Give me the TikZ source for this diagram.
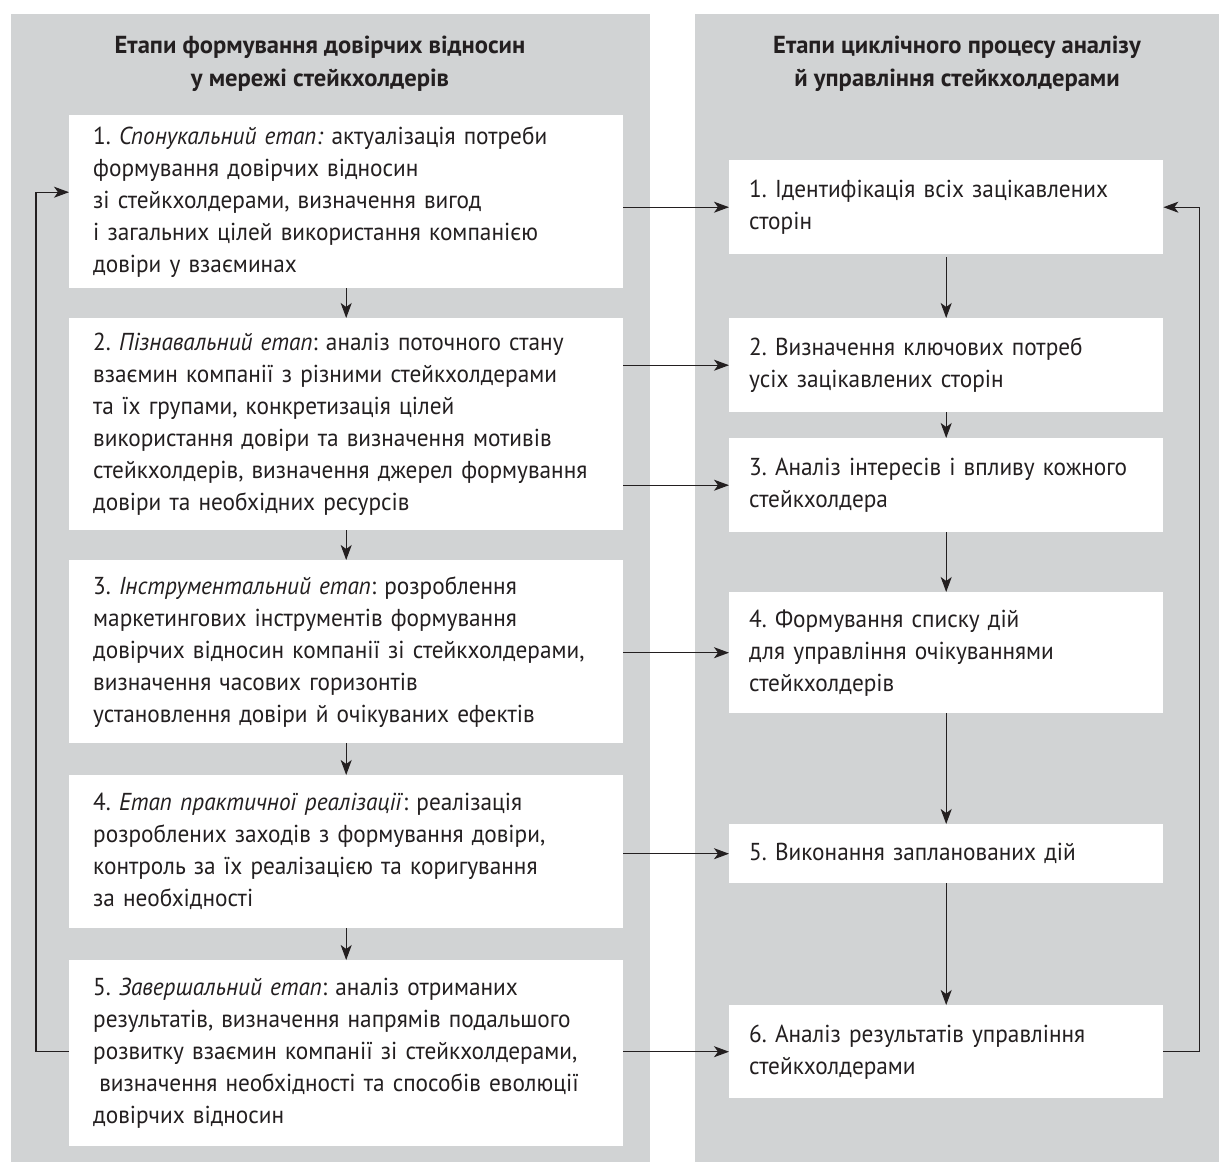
\documentclass[tikz,border=0pt]{standalone}
\usepackage{fontspec}
\setmainfont{PT Sans}[FakeStretch=0.95]
\newfontfamily\titlefont{PT Sans}
\usetikzlibrary{arrows.meta,calc}
\definecolor{panelgrey}{RGB}{209,211,212}
\definecolor{ink}{RGB}{35,31,32}
\newcommand\boxlines[1]{\begin{tabular}{@{}l@{}}#1\end{tabular}}
\frenchspacing
\begin{document}
\begin{tikzpicture}[x=1pt,y=-1pt,
  lbox/.style={fill=white,draw=none,anchor=north west,text width=506pt,inner xsep=24pt,inner ysep=0pt,align=left,font=\frenchspacing\fontsize{24.5}{32}\selectfont,text=ink},
  rbox/.style={fill=white,draw=none,anchor=north west,text width=394pt,inner xsep=20pt,inner ysep=0pt,align=left,font=\frenchspacing\fontsize{24.5}{32}\selectfont,text=ink},
  ttl/.style={align=center,font=\titlefont\bfseries\fontsize{24.6}{33}\selectfont,text=ink},
  arr/.style={draw=ink,line width=1.1pt,-{Stealth[length=15pt,width=11pt,inset=4pt]}}
]
\useasboundingbox (0,0) rectangle (1219,1162);
\fill[white] (0,0) rectangle (1219,1162);
\fill[panelgrey] (11,14) rectangle (650,1162);
\fill[panelgrey] (695,14) rectangle (1219,1162);

\node[ttl] (tl) at (320,63.5) {Етапи формування довірчих відносин\\у мережі стейкхолдерів};
\node[ttl] (tr) at (957,63.5) {Етапи циклічного процесу аналізу\\й управління стейкхолдерами};

\node[lbox,minimum height=173pt] (l1) at (69,115) {\boxlines{1. \textit{Спонукальний етап:} актуалізація потреби\\формування довірчих відносин\\зі стейкхолдерами, визначення вигод\\і загальних цілей використання компанією\\довіри у взаєминах}};
\node[lbox,minimum height=212pt] (l2) at (69,318) {\boxlines{2. \textit{Пізнавальний етап}: аналіз поточного стану\\взаємин компанії з різними стейкхолдерами\\та їх групами, конкретизація цілей\\використання довіри та визначення мотивів\\стейкхолдерів, визначення джерел формування\\довіри та необхідних ресурсів}};
\node[lbox,minimum height=183pt] (l3) at (69,560) {\boxlines{3. \textit{Інструментальний етап}: розроблення\\маркетингових інструментів формування\\довірчих відносин компанії зі стейкхолдерами,\\визначення часових горизонтів\\установлення довіри й очікуваних ефектів}};
\node[lbox,minimum height=153pt] (l4) at (69,775) {\boxlines{4. \textit{Етап практичної реалізації}: реалізація\\розроблених заходів з формування довіри,\\контроль за їх реалізацією та коригування\\за необхідності}};
\node[lbox,minimum height=186pt] (l5) at (69,960) {\boxlines{5. \textit{Завершальний етап}: аналіз отриманих\\результатів, визначення напрямів подальшого\\розвитку взаємин компанії зі стейкхолдерами,\\\hspace*{0.25em}визначення необхідності та способів еволюції\\довірчих відносин}};

\node[rbox,minimum height=94pt] (r1) at (729,160) {\boxlines{1. Ідентифікація всіх зацікавлених\\сторін}};
\node[rbox,minimum height=94pt] (r2) at (729,318) {\boxlines{2. Визначення ключових потреб\\усіх зацікавлених сторін}};
\node[rbox,minimum height=94pt] (r3) at (729,438) {\boxlines{3. Аналіз інтересів і впливу кожного\\стейкхолдера}};
\node[rbox,minimum height=121pt] (r4) at (729,592) {\boxlines{4. Формування списку дій\\для управління очікуваннями\\стейкхолдерів}};
\node[rbox,minimum height=59pt] (r5) at (729,824) {\boxlines{5. Виконання запланованих дій}};
\node[rbox,minimum height=93pt] (r6) at (729,1005) {\boxlines{6. Аналіз результатів управління\\стейкхолдерами}};

% left vertical
\draw[arr] (l1.south) -- (l2.north);
\draw[arr] (l2.south) -- (l3.north);
\draw[arr] (l3.south) -- (l4.north);
\draw[arr] (l4.south) -- (l5.north);
% right vertical
\draw[arr,shorten <=3pt] (r1.south) -- (r2.north);
\draw[arr] (r2.south) -- (r3.north);
\draw[arr] (r3.south) -- (r4.north);
\draw[arr] (r4.south) -- (r5.north);
\draw[arr] (r5.south) -- (r6.north);
% horizontal
\draw[arr] (l1.east |- r1.west) -- (r1.west);
\draw[arr] (l2.east |- r2.west) -- (r2.west);
\draw[arr] (l2.east |- r3.west) -- (r3.west);
\draw[arr] (l3.east |- r4.west) -- (r4.west);
\draw[arr] (l4.east |- r5.west) -- (r5.west);
\draw[arr] (l5.east |- r6.west) -- (r6.west);
% feedback
\draw[arr] ([yshift=1.5pt]l5.west) -- ++(-33,0) |- ([yshift=9.5pt]l1.west);
\draw[arr] (r6.east) -- ++(36,0) |- (r1.east);
\end{tikzpicture}
\end{document}
